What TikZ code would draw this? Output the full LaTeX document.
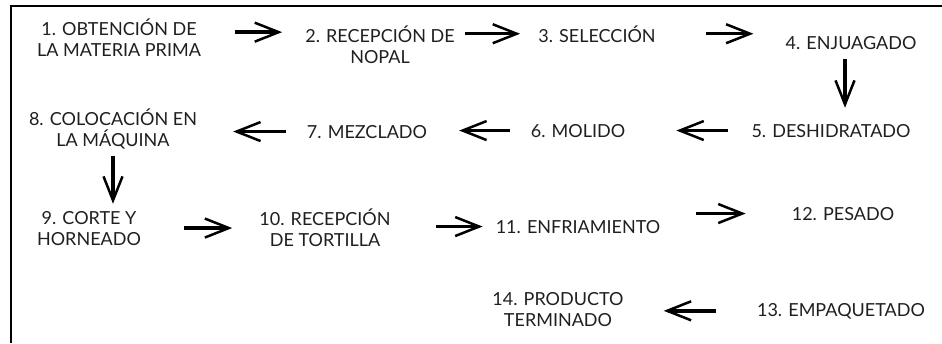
\documentclass[tikz,border=0pt]{standalone}
\usepackage{fontspec}
\setmainfont{Lato}
\usetikzlibrary{arrows.meta}
\begin{document}
\begin{tikzpicture}[x=1pt,y=-1pt,
    paso/.style={inner sep=0pt,anchor=base,align=center,text=black!88,
        font=\fontsize{18}{21}\selectfont},
    flecha/.style={line width=3.4pt,-{Straight Barb[length=24pt,width=19pt,line width=2.5pt]}}]
    \useasboundingbox (0,0) rectangle (942,343);
    \draw[line width=2pt] (11,343) -- (11,6) -- (942,6);
    \node[paso] (n1) at (119,56) {1. OBTENCIÓN DE\\LA MATERIA PRIMA};
    \node[paso] (n2) at (380,63) {2. RECEPCIÓN DE\\NOPAL};
    \node[paso] (n3) at (597,42) {3. SELECCIÓN};
    \node[paso] (n4) at (851,49) {4. ENJUAGADO};
    \node[paso] (n5) at (831,137) {5. DESHIDRATADO};
    \node[paso] (n6) at (578,137) {6. MOLIDO};
    \node[paso] (n7) at (367,138) {7. MEZCLADO};
    \node[paso] (n8) at (113,146) {8. COLOCACIÓN EN\\LA MÁQUINA};
    \node[paso] (n9) at (89,245) {9. CORTE Y\\HORNEADO};
    \node[paso] (n10) at (325,246) {10. RECEPCIÓN\\DE TORTILLA};
    \node[paso] (n11) at (578,233) {11. ENFRIAMIENTO};
    \node[paso] (n12) at (843,220) {12. PESADO};
    \node[paso] (n13) at (841,316) {13. EMPAQUETADO};
    \node[paso] (n14) at (558,326) {14. PRODUCTO\\TERMINADO};
    \draw[flecha,shorten <=34pt,shorten >=23pt] ([yshift=5pt]n1.east) -- ([yshift=5pt]n1.east -| n2.west);
    \draw[flecha,shorten <=10pt,shorten >=18pt] (n3.west -| n2.east) -- (n3.west);
    \draw[flecha,shorten <=50pt,shorten >=32pt] (n3.east) -- (n3.east -| n4.west);
    \draw[flecha,shorten <=10pt,shorten >=16pt] ([xshift=-6pt]n4.south) -- ([xshift=-6pt]n4.south |- n5.north);
    \draw[flecha,shorten <=23pt,shorten >=51pt] (n5.west) -- (n5.west -| n6.east);
    \draw[flecha,shorten <=21pt,shorten >=32pt] (n6.west) -- (n6.west -| n7.east);
    \draw[flecha,shorten <=21pt,shorten >=36pt] (n7.west) -- (n7.west -| n8.east);
    \draw[flecha,shorten <=7pt,shorten >=7pt] (n8.south) -- (n8.south |- n9.north);
    \draw[flecha,shorten <=43pt,shorten >=27pt] (n9.east) -- (n9.east -| n10.west);
    \draw[flecha,shorten <=45pt,shorten >=13pt] (n11.west -| n10.east) -- (n11.west);
    \draw[flecha,shorten <=36pt,shorten >=46pt] (n12.west -| n11.east) -- (n12.west);
    \draw[flecha,shorten <=41pt,shorten >=40pt] (n13.west) -- (n13.west -| n14.east);
\end{tikzpicture}
\end{document}
